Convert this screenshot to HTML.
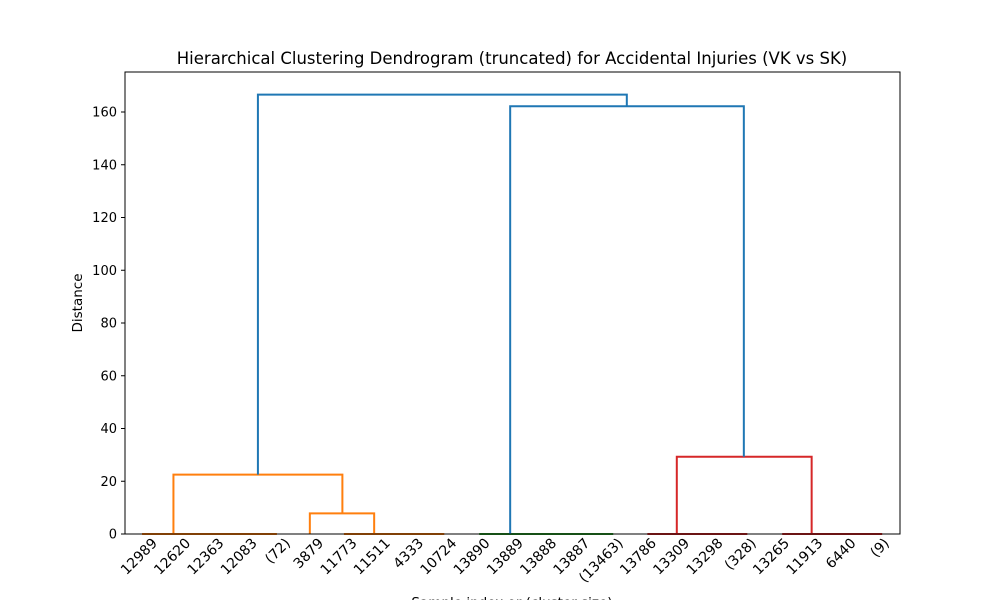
<!DOCTYPE html>
<html><head><meta charset="utf-8">
<style>
body{margin:0;background:#fff;}
svg{display:block;font-family:"DejaVu Sans","Liberation Sans",sans-serif;}
</style></head>
<body>
<svg id="chart" width="1000" height="600" viewBox="0 0 1000 600">
<text x="512" y="64" text-anchor="middle" font-size="16.5" fill="#000">Hierarchical Clustering Dendrogram (truncated) for Accidental Injuries (VK vs SK)</text>
<text transform="translate(82,303) rotate(-90)" text-anchor="middle" font-size="13.5">Distance</text>
<text x="512" y="607" text-anchor="middle" font-size="13.5">Sample index or (cluster size)</text>
<g id="links"></g>
<g id="yticks"></g>
<g id="xticks"></g>
<rect x="125" y="72" width="775" height="462" fill="none" stroke="#000" stroke-width="1"/>
</svg>
<script>
const leafLabels=["12989","12620","12363","12083","(72)","3879","11773","11511","4333","10724","13890","13889","13888","13887","(13463)","13786","13309","13298","(328)","13265","11913","6440","(9)"];
const yTicks=[0,20,40,60,80,100,120,140,160];
// links: [x1,x2, yLeft, yTop, yRight] in data units (x: 0..200)
const linkX1=[4.4,56.5,91.4,134.8,169.6,12.5,47.7,142.4,99.4,34.3];
const linkX2=[39.2,82.4,126,160.6,195.4,56.1,64.3,177.2,159.7,129.5];
const linkYL=[0,0,0,0,0,0,0,0,0,22.5];
const linkYT=[0,0,0,0,0,22.5,7.8,29.3,162.2,166.6];
const linkYR=[0,0,0,0,0,7.8,0,0,29.3,162.2];
const linkColor=["#ff7f0e","#ff7f0e","#2ca02c","#d62728","#d62728","#ff7f0e","#ff7f0e","#d62728","#1f77b4","#1f77b4"];
const X0=125,X1=900,Y0=534,Y1=72;
const xs=v=>X0+v/200*(X1-X0);
const ys=v=>Y0-v*(422/160);
const NS="http://www.w3.org/2000/svg";
const links=document.getElementById('links');
for(let i=0;i<linkX1.length;i++){
 const p=document.createElementNS(NS,'polyline');
 p.setAttribute('points',`${xs(linkX1[i])},${ys(linkYL[i])} ${xs(linkX1[i])},${ys(linkYT[i])} ${xs(linkX2[i])},${ys(linkYT[i])} ${xs(linkX2[i])},${ys(linkYR[i])}`);
 p.setAttribute('fill','none');p.setAttribute('stroke',linkColor[i]);p.setAttribute('stroke-width','2');
 
 
 links.appendChild(p);
}
const yt=document.getElementById('yticks');
yTicks.forEach(v=>{
 const l=document.createElementNS(NS,'line');
 l.setAttribute('x1',X0-4);l.setAttribute('x2',X0);l.setAttribute('y1',ys(v));l.setAttribute('y2',ys(v));l.setAttribute('stroke','#000');
 
 
 yt.appendChild(l);
 const t=document.createElementNS(NS,'text');
 t.setAttribute('x',X0-8);t.setAttribute('y',ys(v)+4.5);t.setAttribute('text-anchor','end');t.setAttribute('font-size','13');
 t.textContent=v;
 
 
 yt.appendChild(t);
});
const xt=document.getElementById('xticks');
const step=(890-158)/(leafLabels.length-1);
leafLabels.forEach((s,i)=>{
 const x=158+step*i;
 const t=document.createElementNS(NS,'text');
 t.setAttribute('transform',`translate(${x},${Y0+10}) rotate(-45)`);
 t.setAttribute('text-anchor','end');t.setAttribute('font-size','14');
 t.textContent=s;
 
 
 xt.appendChild(t);
});
</script>
</body></html>
